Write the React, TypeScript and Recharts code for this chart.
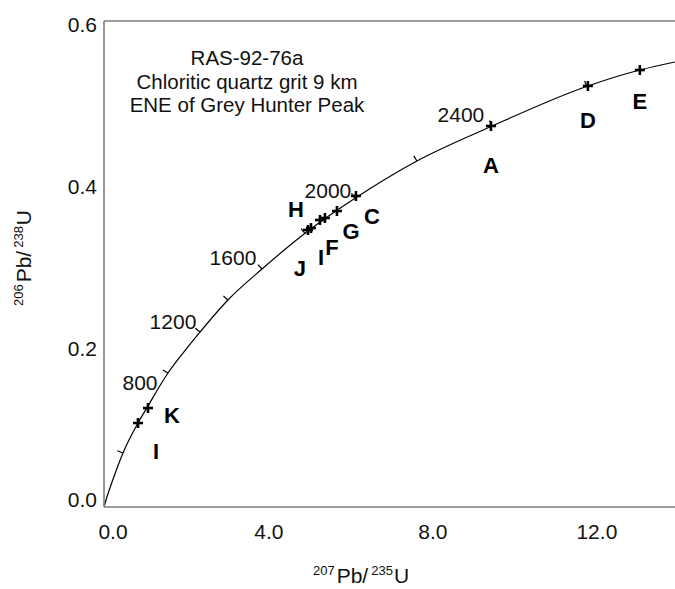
import React from 'react';
import { ComposedChart, Line, Scatter, XAxis, YAxis, ReferenceLine } from 'recharts';

// ---- data ----
const concordiaX = [0, 0.049, 0.146, 0.293, 0.463, 0.829, 1.073, 1.561, 1.927, 2.341, 3.024, 3.854, 4.976, 6.171, 7.634, 9.415, 11.805, 13.073, 13.927];
const concordiaY = [0, 0.0086, 0.0235, 0.0444, 0.0667, 0.1037, 0.1247, 0.1654, 0.1901, 0.216, 0.2556, 0.2938, 0.3407, 0.3827, 0.4272, 0.4691, 0.5198, 0.5395, 0.5494];

const tickAges = [400, 800, 1200, 1400, 1600, 1800, 2000, 2200, 2400, 2600];
const tickX = [0.463, 1.561, 2.341, 3.024, 3.854, 4.902, 6.122, 7.634, 9.463, 11.78];
const tickY = [0.0667, 0.1654, 0.216, 0.2556, 0.2938, 0.3379, 0.381, 0.4272, 0.4704, 0.5192];
const labeledAges = [800, 1200, 1600, 2000, 2400];

const sampleNames = ['I', 'K', 'H', 'J', 'I', 'F', 'G', 'C', 'A', 'D', 'E'];
const sampleX = [0.829, 1.073, 4.976, 5.049, 5.268, 5.39, 5.683, 6.146, 9.44, 11.805, 13.073];
const sampleY = [0.1037, 0.1222, 0.342, 0.3444, 0.3543, 0.3568, 0.3654, 0.384, 0.4704, 0.5198, 0.5395];

const xTicks = [0, 4, 8, 12];
const yTicks = [0, 0.2, 0.4, 0.6];
const xMax = 13.93;
const yMax = 0.6;

const titleLines = ['RAS-92-76a', 'Chloritic quartz grit 9 km', 'ENE of Grey Hunter Peak'];

// ---- layout / style ----
const W = 675;
const H = 589;
const LEFT = 104;
const TOP = 21;
const BOTTOM_AREA = 82;
const PLOT_W = W - LEFT;
const PLOT_H = H - TOP - BOTTOM_AREA;
const PXX = PLOT_W / xMax;
const PXY = PLOT_H / yMax;
const FONT = '"Liberation Sans", Arial, Helvetica, sans-serif';
const AXIS_COLOR = '#7d7d7d';

const ageLabelOffset: Record<number, [number, number]> = {
  800: [-28, 9],
  1200: [-27, -11],
  1600: [-29, -12],
  2000: [-27, -8],
  2400: [-31, -11],
};
const sampleLabelOffset: [number, number][] = [
  [18, 28], [24, 7], [-12, -21], [-11, 40], [1, 37], [7, 29], [14, 20], [16, 20], [0, 39], [0, 34], [0, 31],
];

const concordiaData = concordiaX.map((x, i) => ({ x, y: concordiaY[i] }));
const tickData = tickAges.map((age, i) => ({ x: tickX[i], y: tickY[i], age }));
const sampleData = sampleNames.map((name, i) => ({ x: sampleX[i], y: sampleY[i], name, idx: i }));

function slopeAt(x: number): number {
  for (let i = 1; i < concordiaX.length; i++) {
    if (x <= concordiaX[i]) {
      return (concordiaY[i] - concordiaY[i - 1]) / (concordiaX[i] - concordiaX[i - 1]);
    }
  }
  const n = concordiaX.length - 1;
  return (concordiaY[n] - concordiaY[n - 1]) / (concordiaX[n] - concordiaX[n - 1]);
}

const TickMark = (props: any) => {
  const { cx, cy, payload } = props;
  if (cx == null || cy == null) return null;
  const s = (slopeAt(payload.x) * PXY) / PXX;
  const n = Math.hypot(s, 1);
  const len = 6;
  const nx = (-s / n) * len;
  const ny = (-1 / n) * len;
  const showLabel = labeledAges.includes(payload.age);
  const off = ageLabelOffset[payload.age] || [0, 0];
  return (
    <g>
      <line x1={cx} y1={cy} x2={cx + nx} y2={cy + ny} stroke="#000" strokeWidth={1.2} />
      {showLabel && (
        <text x={cx + off[0]} y={cy + off[1] + 7.5} textAnchor="middle" fontSize={21} fontFamily={FONT} fill="#111">
          {payload.age}
        </text>
      )}
    </g>
  );
};

const SampleMark = (props: any) => {
  const { cx, cy, payload } = props;
  if (cx == null || cy == null) return null;
  const off = sampleLabelOffset[payload.idx] || [0, 0];
  const a = 5;
  return (
    <g>
      <line x1={cx - a} y1={cy} x2={cx + a} y2={cy} stroke="#000" strokeWidth={2.6} />
      <line x1={cx} y1={cy - a} x2={cx} y2={cy + a} stroke="#000" strokeWidth={2.6} />
      <text x={cx + off[0]} y={cy + off[1] + 8} textAnchor="middle" fontSize={22} fontWeight="bold" fontFamily={FONT} fill="#000">
        {payload.name}
      </text>
    </g>
  );
};

const XTick = (props: any) => {
  const { x, y, payload } = props;
  const dx = payload.value === 0 ? 9 : 1;
  return (
    <text x={x + dx} y={y + 32} textAnchor="middle" fontSize={21} fontFamily={FONT} fill="#111">
      {Number(payload.value).toFixed(1)}
    </text>
  );
};

const YTick = (props: any) => {
  const { x, y, payload } = props;
  const dy = payload.value === 0 ? -8 : 3;
  return (
    <text x={x - 7} y={y + dy + 7.5} textAnchor="end" fontSize={21} fontFamily={FONT} fill="#111">
      {Number(payload.value).toFixed(1)}
    </text>
  );
};

export default function App() {
  return (
    <div style={{ position: 'absolute', left: 0, top: 0, width: W, height: H, background: '#fff' }}>
      <ComposedChart width={W} height={H} margin={{ top: TOP, right: 0, bottom: 0, left: 0 }}>
        <XAxis
          dataKey="x"
          type="number"
          domain={[0, xMax]}
          allowDataOverflow
          ticks={xTicks}
          tick={<XTick />}
          tickLine={false}
          tickSize={0}
          tickMargin={0}
          height={BOTTOM_AREA}
          axisLine={{ stroke: AXIS_COLOR, strokeWidth: 1.6 }}
        />
        <YAxis
          dataKey="y"
          type="number"
          domain={[0, yMax]}
          allowDataOverflow
          ticks={yTicks}
          tick={<YTick />}
          tickLine={false}
          tickSize={0}
          tickMargin={0}
          width={LEFT}
          axisLine={{ stroke: AXIS_COLOR, strokeWidth: 1.6 }}
        />
        <ReferenceLine y={yMax} stroke={AXIS_COLOR} strokeWidth={1.6} />
        <Line
          data={concordiaData}
          dataKey="y"
          type="monotone"
          stroke="#000"
          strokeWidth={1.2}
          dot={false}
          activeDot={false}
          isAnimationActive={false}
        />
        <Scatter data={tickData} dataKey="y" shape={<TickMark />} isAnimationActive={false} />
        <Scatter data={sampleData} dataKey="y" shape={<SampleMark />} isAnimationActive={false} />
        <g>
          {titleLines.map((t, i) => (
            <text key={i} x={247} y={65 + i * 23.5} textAnchor="middle" fontSize={20.5} fontFamily={FONT} fill="#111">
              {t}
            </text>
          ))}
          <text x={361} y={583} textAnchor="middle" fontSize={21} fontFamily={FONT} fill="#111">
            <tspan fontSize={13} dy={-8}>207</tspan>
            <tspan dy={8} dx={2}>Pb/</tspan>
            <tspan fontSize={13} dy={-8} dx={3}>235</tspan>
            <tspan dy={8} dx={1}>U</tspan>
          </text>
          <text
            x={31}
            y={258}
            textAnchor="middle"
            fontSize={21}
            fontFamily={FONT}
            fill="#111"
            transform="rotate(-90, 31, 258)"
          >
            <tspan fontSize={13} dy={-8}>206</tspan>
            <tspan dy={8} dx={2}>Pb/</tspan>
            <tspan fontSize={13} dy={-8} dx={3}>238</tspan>
            <tspan dy={8} dx={1}>U</tspan>
          </text>
        </g>
      </ComposedChart>
    </div>
  );
}
